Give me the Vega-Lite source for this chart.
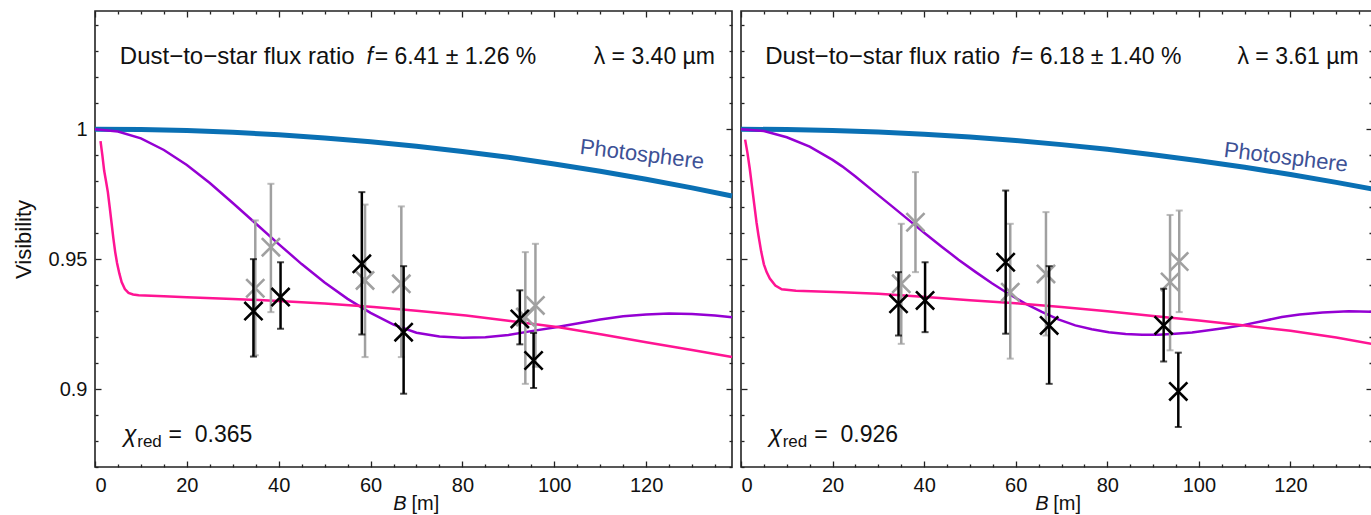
{
  "$schema": "https://vega.github.io/schema/vega-lite/v6.json",
  "padding": {"left": 11, "top": 9, "right": 0, "bottom": 0},
  "spacing": 9,
  "bounds": "flush",
  "config": {
    "font": "Liberation Sans",
    "view": {"stroke": "#222", "strokeWidth": 1.6},
    "axis": {"grid": false, "domain": false, "tickColor": "#222", "tickWidth": 1.3, "labelColor": "#111", "titleColor": "#111"}
  },
  "datasets": {
    "photoL": [{"B":0,"V":1},{"B":10,"V":0.99987},{"B":20,"V":0.99947},{"B":30,"V":0.9988},{"B":40,"V":0.99786},{"B":50,"V":0.99666},{"B":60,"V":0.99519},{"B":70,"V":0.99345},{"B":80,"V":0.99145},{"B":90,"V":0.98918},{"B":100,"V":0.98664},{"B":110,"V":0.98383},{"B":120,"V":0.98076},{"B":130,"V":0.97742},{"B":138.7,"V":0.9743}],
    "photoR": [{"B":0,"V":1},{"B":10,"V":0.99988},{"B":20,"V":0.99952},{"B":30,"V":0.99891},{"B":40,"V":0.99806},{"B":50,"V":0.99697},{"B":60,"V":0.99564},{"B":70,"V":0.99407},{"B":80,"V":0.99225},{"B":90,"V":0.99019},{"B":100,"V":0.98789},{"B":110,"V":0.98535},{"B":120,"V":0.98256},{"B":130,"V":0.97953},{"B":137.8,"V":0.977}],
    "purpleL": [{"B":0,"V":1},{"B":5,"V":0.9991},{"B":10,"V":0.9965},{"B":15,"V":0.992},{"B":20,"V":0.9862},{"B":25,"V":0.9793},{"B":30,"V":0.9716},{"B":35,"V":0.9637},{"B":40,"V":0.9558},{"B":45,"V":0.9481},{"B":50,"V":0.941},{"B":55,"V":0.9347},{"B":60,"V":0.9293},{"B":65,"V":0.9248},{"B":70,"V":0.9217},{"B":75,"V":0.9202},{"B":80,"V":0.9197},{"B":85,"V":0.9199},{"B":90,"V":0.9208},{"B":95,"V":0.9223},{"B":100,"V":0.9237},{"B":105,"V":0.9252},{"B":110,"V":0.9268},{"B":115,"V":0.928},{"B":120,"V":0.9287},{"B":125,"V":0.9291},{"B":130,"V":0.9289},{"B":135,"V":0.9283},{"B":138.7,"V":0.9276}],
    "purpleR": [{"B":0,"V":1},{"B":5,"V":0.9993},{"B":10,"V":0.9969},{"B":15,"V":0.9933},{"B":20,"V":0.9882},{"B":22.1,"V":0.9857},{"B":25,"V":0.9818},{"B":29.3,"V":0.9756},{"B":33,"V":0.9703},{"B":36.6,"V":0.9651},{"B":40.2,"V":0.9599},{"B":43.9,"V":0.9547},{"B":47.5,"V":0.9498},{"B":51.2,"V":0.9451},{"B":54.8,"V":0.9407},{"B":58.4,"V":0.9367},{"B":62,"V":0.933},{"B":65.7,"V":0.9297},{"B":69.3,"V":0.9268},{"B":73,"V":0.9245},{"B":76.6,"V":0.923},{"B":80.3,"V":0.9219},{"B":84,"V":0.9212},{"B":87.6,"V":0.9209},{"B":91.2,"V":0.9209},{"B":94.8,"V":0.9213},{"B":98.5,"V":0.9218},{"B":102.1,"V":0.9226},{"B":105.7,"V":0.9235},{"B":109.4,"V":0.9245},{"B":114,"V":0.9262},{"B":118.1,"V":0.9277},{"B":122,"V":0.9287},{"B":127,"V":0.9295},{"B":132.7,"V":0.9299},{"B":137.8,"V":0.9297}],
    "pinkL": [{"B":1.2,"V":0.9954},{"B":1.6,"V":0.99},{"B":2,"V":0.984},{"B":2.4,"V":0.98},{"B":2.8,"V":0.9758},{"B":3.2,"V":0.97},{"B":3.6,"V":0.964},{"B":4,"V":0.958},{"B":4.4,"V":0.9527},{"B":4.8,"V":0.9485},{"B":5.3,"V":0.9445},{"B":5.8,"V":0.9412},{"B":6.5,"V":0.9385},{"B":7.3,"V":0.937},{"B":8.3,"V":0.9364},{"B":9.5,"V":0.9361},{"B":15,"V":0.9357},{"B":20,"V":0.9353},{"B":30,"V":0.9347},{"B":40,"V":0.9339},{"B":50,"V":0.9329},{"B":60.7,"V":0.9316},{"B":70,"V":0.9301},{"B":80.8,"V":0.9283},{"B":90,"V":0.9263},{"B":101,"V":0.9238},{"B":110.4,"V":0.921},{"B":120,"V":0.918},{"B":130,"V":0.915},{"B":138.7,"V":0.9123}],
    "pinkR": [{"B":0.9,"V":0.996},{"B":1.4,"V":0.991},{"B":1.9,"V":0.985},{"B":2.4,"V":0.978},{"B":2.9,"V":0.971},{"B":3.4,"V":0.964},{"B":3.8,"V":0.9593},{"B":4.4,"V":0.953},{"B":5,"V":0.948},{"B":5.6,"V":0.945},{"B":6.3,"V":0.9425},{"B":7.5,"V":0.9398},{"B":8.9,"V":0.9384},{"B":12,"V":0.9378},{"B":22,"V":0.9373},{"B":30,"V":0.9367},{"B":40.4,"V":0.9354},{"B":50,"V":0.9342},{"B":60,"V":0.933},{"B":70,"V":0.9316},{"B":80,"V":0.9299},{"B":90,"V":0.9281},{"B":100,"V":0.9264},{"B":110,"V":0.9245},{"B":120,"V":0.9224},{"B":130,"V":0.9198},{"B":137.8,"V":0.9174}],
    "blackL": [{"B":34.5,"V":0.93,"lo":0.9125,"hi":0.95},{"B":40.4,"V":0.9354,"lo":0.9232,"hi":0.9488},{"B":58.1,"V":0.9482,"lo":0.921,"hi":0.9758},{"B":67.2,"V":0.9219,"lo":0.8982,"hi":0.9473},{"B":92.5,"V":0.927,"lo":0.9172,"hi":0.938},{"B":95.5,"V":0.911,"lo":0.9004,"hi":0.9216}],
    "grayL": [{"B":34.9,"V":0.9388,"lo":0.913,"hi":0.9649},{"B":38.3,"V":0.9546,"lo":0.9296,"hi":0.979},{"B":58.8,"V":0.9418,"lo":0.9123,"hi":0.971},{"B":66.7,"V":0.9405,"lo":0.9123,"hi":0.9703},{"B":93.7,"V":0.9277,"lo":0.902,"hi":0.9527},{"B":95.9,"V":0.9322,"lo":0.9085,"hi":0.9559}],
    "blackR": [{"B":34.4,"V":0.9328,"lo":0.9206,"hi":0.945},{"B":40.2,"V":0.9341,"lo":0.9219,"hi":0.9488},{"B":57.8,"V":0.9488,"lo":0.9213,"hi":0.9764},{"B":67.3,"V":0.9245,"lo":0.902,"hi":0.9473},{"B":92.3,"V":0.9245,"lo":0.9106,"hi":0.9386},{"B":95.5,"V":0.8991,"lo":0.8854,"hi":0.914}],
    "grayR": [{"B":35,"V":0.9405,"lo":0.9174,"hi":0.9636},{"B":38.1,"V":0.9642,"lo":0.945,"hi":0.9835},{"B":58.8,"V":0.9373,"lo":0.9117,"hi":0.9636},{"B":66.6,"V":0.9443,"lo":0.9206,"hi":0.9681},{"B":93.7,"V":0.9412,"lo":0.9149,"hi":0.967},{"B":95.7,"V":0.9491,"lo":0.9296,"hi":0.9687}]
  },
  "hconcat": [
    {
      "width": 637,
      "height": 456,
      "resolve": {"axis": {"x": "independent", "y": "independent"}},
      "layer": [
        {"data": {"name": "photoL"}, "mark": {"type": "line", "color": "#0a70b4", "strokeWidth": 5},
         "encoding": {
           "x": {"field": "B", "type": "quantitative", "scale": {"domain": [0, 138.7], "nice": false, "zero": false},
                 "axis": {"orient": "bottom", "values": [0,20,40,60,80,100,120], "format": "d", "tickSize": -6, "labelPadding": 14, "labelFontSize": 20, "title": null}},
           "y": {"field": "V", "type": "quantitative", "scale": {"domain": [0.87, 1.0455], "nice": false, "zero": false},
                 "axis": {"orient": "left", "values": [0.9,0.95,1], "format": "~g", "tickSize": -6, "labelPadding": 14, "labelFontSize": 20, "title": "Visibility", "titleFontSize": 22, "titleFontWeight": "normal", "titlePadding": 13}}
         }},
        {"data": {"name": "purpleL"}, "mark": {"type": "line", "color": "#9400d3", "strokeWidth": 2.5},
         "encoding": {
           "x": {"field": "B", "type": "quantitative", "axis": {"orient": "bottom", "values": [5,10,15,25,30,35,45,50,55,65,70,75,85,90,95,105,110,115,125,130,135], "tickSize": -3, "labels": false, "title": null}},
           "y": {"field": "V", "type": "quantitative", "axis": {"orient": "left", "values": [0.87,0.88,0.89,0.91,0.92,0.93,0.94,0.96,0.97,0.98,0.99,1.01,1.02,1.03,1.04], "tickSize": -3, "labels": false, "title": null}}
         }},
        {"data": {"name": "pinkL"}, "mark": {"type": "line", "color": "#ff1493", "strokeWidth": 2.5},
         "encoding": {
           "x": {"field": "B", "type": "quantitative", "axis": {"orient": "top", "values": [0,20,40,60,80,100,120], "tickSize": -6, "labels": false, "title": null}},
           "y": {"field": "V", "type": "quantitative", "axis": {"orient": "right", "values": [0.9,0.95,1], "tickSize": -6, "labels": false, "title": null}}
         }},
        {"data": {"name": "grayL"}, "mark": {"type": "errorbar", "color": "#a0a0a0", "thickness": 2.5, "ticks": {"size": 7, "thickness": 2, "color": "#a0a0a0"}},
         "encoding": {
           "x": {"field": "B", "type": "quantitative", "axis": null},
           "y": {"field": "lo", "type": "quantitative", "axis": null},
           "y2": {"field": "hi"}
         }},
        {"data": {"name": "grayL"}, "mark": {"type": "point", "shape": "M-1,-1L1,1M-1,1L1,-1", "filled": false, "size": 330, "strokeWidth": 2.6, "color": "#a0a0a0", "opacity": 1},
         "encoding": {
           "x": {"field": "B", "type": "quantitative", "axis": {"orient": "top", "values": [5,10,15,25,30,35,45,50,55,65,70,75,85,90,95,105,110,115,125,130,135], "tickSize": -3, "labels": false, "title": null}},
           "y": {"field": "V", "type": "quantitative", "axis": {"orient": "right", "values": [0.87,0.88,0.89,0.91,0.92,0.93,0.94,0.96,0.97,0.98,0.99,1.01,1.02,1.03,1.04], "tickSize": -3, "labels": false, "title": null}}
         }},
        {"data": {"name": "blackL"}, "mark": {"type": "errorbar", "color": "black", "thickness": 2.5, "ticks": {"size": 7, "thickness": 2, "color": "black"}},
         "encoding": {
           "x": {"field": "B", "type": "quantitative", "axis": null},
           "y": {"field": "lo", "type": "quantitative", "axis": null},
           "y2": {"field": "hi"}
         }},
        {"data": {"name": "blackL"}, "mark": {"type": "point", "shape": "M-1,-1L1,1M-1,1L1,-1", "filled": false, "size": 330, "strokeWidth": 2.6, "color": "black", "opacity": 1},
         "encoding": {
           "x": {"field": "B", "type": "quantitative", "axis": null},
           "y": {"field": "V", "type": "quantitative", "axis": null}
         }},
        {"data": {"values": [{"t": "Dust−to−star flux ratio"}]}, "mark": {"type": "text", "fontSize": 24, "align": "left", "baseline": "middle", "color": "#111"},
         "encoding": {"x": {"datum": 5.4, "type": "quantitative", "axis": null}, "y": {"datum": 1.0279, "type": "quantitative", "axis": null}, "text": {"field": "t"}}},
        {"data": {"values": [{"t": "f"}]}, "mark": {"type": "text", "fontSize": 23, "fontStyle": "italic", "align": "center", "baseline": "middle", "color": "#111"},
         "encoding": {"x": {"datum": 59.8, "type": "quantitative", "axis": null}, "y": {"datum": 1.0279, "type": "quantitative", "axis": null}, "text": {"field": "t"}}},
        {"data": {"values": [{"t": "= 6.41 ± 1.26 %"}]}, "mark": {"type": "text", "fontSize": 23, "align": "left", "baseline": "middle", "color": "#111"},
         "encoding": {"x": {"datum": 60.9, "type": "quantitative", "axis": null}, "y": {"datum": 1.0279, "type": "quantitative", "axis": null}, "text": {"field": "t"}}},
        {"data": {"values": [{"t": "λ = 3.40 µm"}]}, "mark": {"type": "text", "fontSize": 23, "align": "right", "baseline": "middle", "color": "#111"},
         "encoding": {"x": {"datum": 135.0, "type": "quantitative", "axis": null}, "y": {"datum": 1.0279, "type": "quantitative", "axis": null}, "text": {"field": "t"}}},
        {"data": {"values": [{"t": "χ"}]}, "mark": {"type": "text", "fontSize": 24, "fontStyle": "italic", "align": "left", "baseline": "middle", "color": "#111"},
         "encoding": {"x": {"datum": 6.2, "type": "quantitative", "axis": null}, "y": {"datum": 0.8823, "type": "quantitative", "axis": null}, "text": {"field": "t"}}},
        {"data": {"values": [{"t": "red"}]}, "mark": {"type": "text", "fontSize": 17, "align": "left", "baseline": "middle", "color": "#111"},
         "encoding": {"x": {"datum": 9.2, "type": "quantitative", "axis": null}, "y": {"datum": 0.8795, "type": "quantitative", "axis": null}, "text": {"field": "t"}}},
        {"data": {"values": [{"t": "= \u00a00.365"}]}, "mark": {"type": "text", "fontSize": 23, "align": "left", "baseline": "middle", "color": "#111"},
         "encoding": {"x": {"datum": 16.0, "type": "quantitative", "axis": null}, "y": {"datum": 0.8823, "type": "quantitative", "axis": null}, "text": {"field": "t"}}},
        {"data": {"values": [{"t": "Photosphere"}]}, "mark": {"type": "text", "fontSize": 22, "angle": 7, "align": "center", "baseline": "middle", "color": "#3d5196"},
         "encoding": {"x": {"datum": 119.1, "type": "quantitative", "axis": null}, "y": {"datum": 0.9903, "type": "quantitative", "axis": null}, "text": {"field": "t"}}},
        {"data": {"values": [{"t": "B"}]}, "mark": {"type": "text", "fontSize": 20, "fontStyle": "italic", "align": "center", "baseline": "middle", "color": "#111"},
         "encoding": {"x": {"datum": 66.4, "type": "quantitative", "axis": null}, "y": {"datum": 0.8557, "type": "quantitative", "axis": null}, "text": {"field": "t"}}},
        {"data": {"values": [{"t": "[m]"}]}, "mark": {"type": "text", "fontSize": 20, "align": "left", "baseline": "middle", "color": "#111"},
         "encoding": {"x": {"datum": 68.9, "type": "quantitative", "axis": null}, "y": {"datum": 0.8557, "type": "quantitative", "axis": null}, "text": {"field": "t"}}}
      ]
    },
    {
      "width": 631,
      "height": 456,
      "resolve": {"axis": {"x": "independent", "y": "independent"}},
      "layer": [
        {"data": {"name": "photoR"}, "mark": {"type": "line", "color": "#0a70b4", "strokeWidth": 5},
         "encoding": {
           "x": {"field": "B", "type": "quantitative", "scale": {"domain": [0, 137.8], "nice": false, "zero": false},
                 "axis": {"orient": "bottom", "values": [0,20,40,60,80,100,120], "format": "d", "tickSize": -6, "labelPadding": 14, "labelFontSize": 20, "title": null}},
           "y": {"field": "V", "type": "quantitative", "scale": {"domain": [0.87, 1.0455], "nice": false, "zero": false},
                 "axis": {"orient": "left", "values": [0.9,0.95,1], "tickSize": -6, "labels": false, "title": null}}
         }},
        {"data": {"name": "purpleR"}, "mark": {"type": "line", "color": "#9400d3", "strokeWidth": 2.5},
         "encoding": {
           "x": {"field": "B", "type": "quantitative", "axis": {"orient": "bottom", "values": [5,10,15,25,30,35,45,50,55,65,70,75,85,90,95,105,110,115,125,130,135], "tickSize": -3, "labels": false, "title": null}},
           "y": {"field": "V", "type": "quantitative", "axis": {"orient": "left", "values": [0.87,0.88,0.89,0.91,0.92,0.93,0.94,0.96,0.97,0.98,0.99,1.01,1.02,1.03,1.04], "tickSize": -3, "labels": false, "title": null}}
         }},
        {"data": {"name": "pinkR"}, "mark": {"type": "line", "color": "#ff1493", "strokeWidth": 2.5},
         "encoding": {
           "x": {"field": "B", "type": "quantitative", "axis": {"orient": "top", "values": [0,20,40,60,80,100,120], "tickSize": -6, "labels": false, "title": null}},
           "y": {"field": "V", "type": "quantitative", "axis": {"orient": "right", "values": [0.9,0.95,1], "tickSize": -6, "labels": false, "title": null}}
         }},
        {"data": {"name": "grayR"}, "mark": {"type": "errorbar", "color": "#a0a0a0", "thickness": 2.5, "ticks": {"size": 7, "thickness": 2, "color": "#a0a0a0"}},
         "encoding": {
           "x": {"field": "B", "type": "quantitative", "axis": null},
           "y": {"field": "lo", "type": "quantitative", "axis": null},
           "y2": {"field": "hi"}
         }},
        {"data": {"name": "grayR"}, "mark": {"type": "point", "shape": "M-1,-1L1,1M-1,1L1,-1", "filled": false, "size": 330, "strokeWidth": 2.6, "color": "#a0a0a0", "opacity": 1},
         "encoding": {
           "x": {"field": "B", "type": "quantitative", "axis": {"orient": "top", "values": [5,10,15,25,30,35,45,50,55,65,70,75,85,90,95,105,110,115,125,130,135], "tickSize": -3, "labels": false, "title": null}},
           "y": {"field": "V", "type": "quantitative", "axis": {"orient": "right", "values": [0.87,0.88,0.89,0.91,0.92,0.93,0.94,0.96,0.97,0.98,0.99,1.01,1.02,1.03,1.04], "tickSize": -3, "labels": false, "title": null}}
         }},
        {"data": {"name": "blackR"}, "mark": {"type": "errorbar", "color": "black", "thickness": 2.5, "ticks": {"size": 7, "thickness": 2, "color": "black"}},
         "encoding": {
           "x": {"field": "B", "type": "quantitative", "axis": null},
           "y": {"field": "lo", "type": "quantitative", "axis": null},
           "y2": {"field": "hi"}
         }},
        {"data": {"name": "blackR"}, "mark": {"type": "point", "shape": "M-1,-1L1,1M-1,1L1,-1", "filled": false, "size": 330, "strokeWidth": 2.6, "color": "black", "opacity": 1},
         "encoding": {
           "x": {"field": "B", "type": "quantitative", "axis": null},
           "y": {"field": "V", "type": "quantitative", "axis": null}
         }},
        {"data": {"values": [{"t": "Dust−to−star flux ratio"}]}, "mark": {"type": "text", "fontSize": 24, "align": "left", "baseline": "middle", "color": "#111"},
         "encoding": {"x": {"datum": 5.3, "type": "quantitative", "axis": null}, "y": {"datum": 1.0279, "type": "quantitative", "axis": null}, "text": {"field": "t"}}},
        {"data": {"values": [{"t": "f"}]}, "mark": {"type": "text", "fontSize": 23, "fontStyle": "italic", "align": "center", "baseline": "middle", "color": "#111"},
         "encoding": {"x": {"datum": 59.8, "type": "quantitative", "axis": null}, "y": {"datum": 1.0279, "type": "quantitative", "axis": null}, "text": {"field": "t"}}},
        {"data": {"values": [{"t": "= 6.18 ± 1.40 %"}]}, "mark": {"type": "text", "fontSize": 23, "align": "left", "baseline": "middle", "color": "#111"},
         "encoding": {"x": {"datum": 60.9, "type": "quantitative", "axis": null}, "y": {"datum": 1.0279, "type": "quantitative", "axis": null}, "text": {"field": "t"}}},
        {"data": {"values": [{"t": "λ = 3.61 µm"}]}, "mark": {"type": "text", "fontSize": 23, "align": "right", "baseline": "middle", "color": "#111"},
         "encoding": {"x": {"datum": 134.9, "type": "quantitative", "axis": null}, "y": {"datum": 1.0279, "type": "quantitative", "axis": null}, "text": {"field": "t"}}},
        {"data": {"values": [{"t": "χ"}]}, "mark": {"type": "text", "fontSize": 24, "fontStyle": "italic", "align": "left", "baseline": "middle", "color": "#111"},
         "encoding": {"x": {"datum": 6.1, "type": "quantitative", "axis": null}, "y": {"datum": 0.8823, "type": "quantitative", "axis": null}, "text": {"field": "t"}}},
        {"data": {"values": [{"t": "red"}]}, "mark": {"type": "text", "fontSize": 17, "align": "left", "baseline": "middle", "color": "#111"},
         "encoding": {"x": {"datum": 9.1, "type": "quantitative", "axis": null}, "y": {"datum": 0.8795, "type": "quantitative", "axis": null}, "text": {"field": "t"}}},
        {"data": {"values": [{"t": "= \u00a00.926"}]}, "mark": {"type": "text", "fontSize": 23, "align": "left", "baseline": "middle", "color": "#111"},
         "encoding": {"x": {"datum": 16.0, "type": "quantitative", "axis": null}, "y": {"datum": 0.8823, "type": "quantitative", "axis": null}, "text": {"field": "t"}}},
        {"data": {"values": [{"t": "Photosphere"}]}, "mark": {"type": "text", "fontSize": 22, "angle": 7, "align": "center", "baseline": "middle", "color": "#3d5196"},
         "encoding": {"x": {"datum": 119.0, "type": "quantitative", "axis": null}, "y": {"datum": 0.9892, "type": "quantitative", "axis": null}, "text": {"field": "t"}}},
        {"data": {"values": [{"t": "B"}]}, "mark": {"type": "text", "fontSize": 20, "fontStyle": "italic", "align": "center", "baseline": "middle", "color": "#111"},
         "encoding": {"x": {"datum": 65.7, "type": "quantitative", "axis": null}, "y": {"datum": 0.8557, "type": "quantitative", "axis": null}, "text": {"field": "t"}}},
        {"data": {"values": [{"t": "[m]"}]}, "mark": {"type": "text", "fontSize": 20, "align": "left", "baseline": "middle", "color": "#111"},
         "encoding": {"x": {"datum": 68.2, "type": "quantitative", "axis": null}, "y": {"datum": 0.8557, "type": "quantitative", "axis": null}, "text": {"field": "t"}}}
      ]
    }
  ]
}
